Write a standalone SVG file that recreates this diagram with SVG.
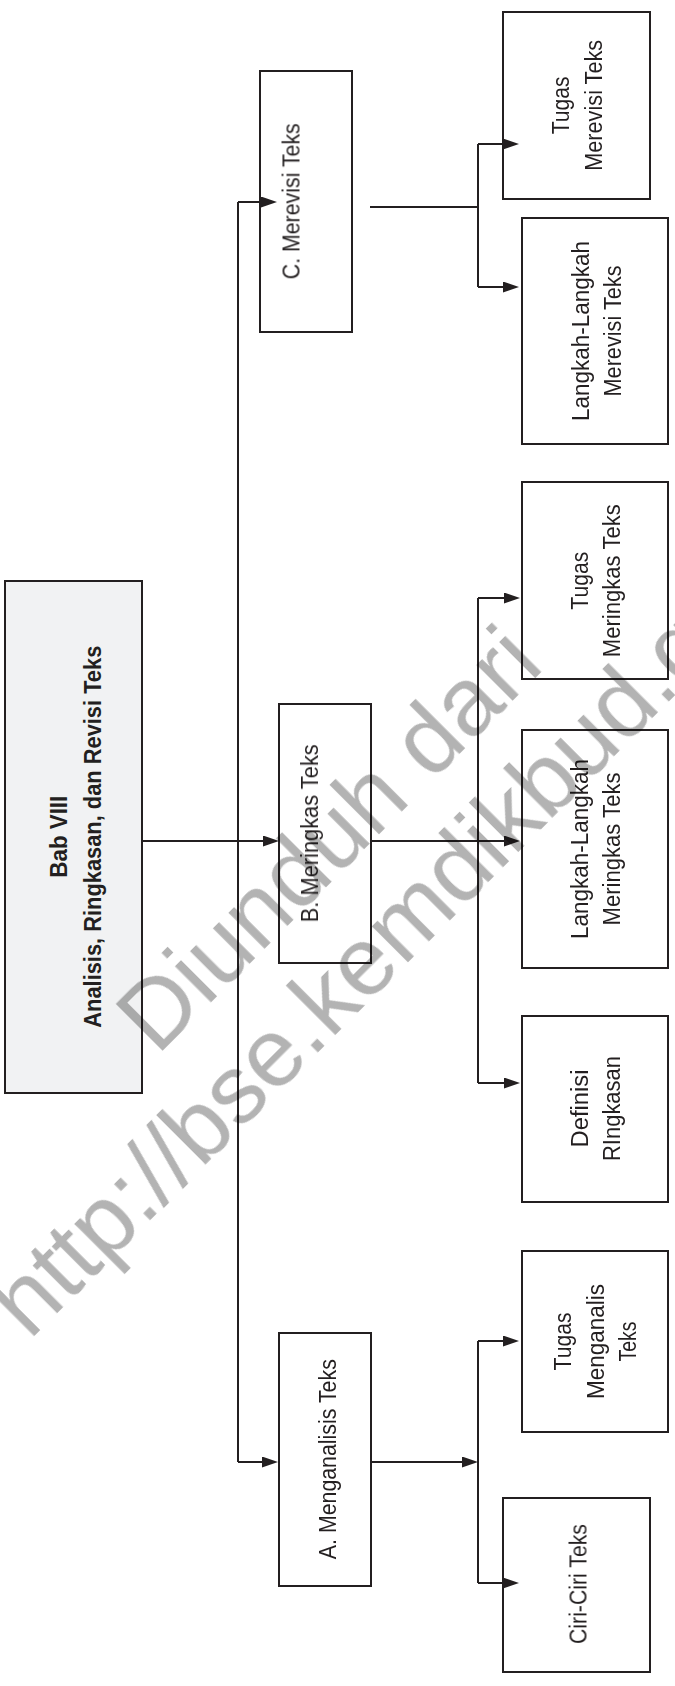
<svg xmlns="http://www.w3.org/2000/svg" width="675" height="1686" viewBox="0 0 675 1686">
<style>
.box{fill:none;stroke:#231f20;stroke-width:2}
.main{fill:#f1f2f3;stroke:#231f20;stroke-width:2}
.t{font-family:"Liberation Sans",Arial,sans-serif;font-size:23px;fill:#231f20;text-anchor:middle}
.b{font-family:"Liberation Sans",Arial,sans-serif;font-size:24px;font-weight:bold;fill:#231f20;text-anchor:middle}
.ln{fill:none;stroke:#231f20;stroke-width:2}
.ar{fill:none;stroke:#231f20;stroke-width:2;marker-end:url(#ah)}
.wm{font-family:"Liberation Sans",Arial,sans-serif;font-size:97px;fill:#b3b3b3;text-anchor:middle}
</style>
<defs>
<marker id="ah" markerUnits="userSpaceOnUse" markerWidth="16" markerHeight="11" refX="8" refY="5.5" orient="auto">
<path d="M0,0 L16,5.5 L0,11 z" fill="#231f20"/>
</marker>
</defs>

<g id="node-main">
<rect class="main" x="5" y="581" width="137" height="512"/>
<text class="b" transform="translate(66.5,836.7) rotate(-90)" textLength="82" lengthAdjust="spacingAndGlyphs">Bab VIII</text>
<text class="b" transform="translate(100.5,836.7) rotate(-90)" textLength="382" lengthAdjust="spacingAndGlyphs">Analisis, Ringkasan, dan Revisi Teks</text>
</g>

<g id="node-c">
<rect class="box" x="260" y="71" width="92" height="261"/>
<text class="t" transform="translate(299.5,201.3) rotate(-90)" textLength="156" lengthAdjust="spacingAndGlyphs">C. Merevisi Teks</text>
</g>

<g id="node-tugas-merevisi">
<rect class="box" x="503" y="12" width="147" height="187"/>
<text class="t" transform="translate(569,105.3) rotate(-90)" textLength="58" lengthAdjust="spacingAndGlyphs">Tugas</text>
<text class="t" transform="translate(601.5,105.3) rotate(-90)" textLength="131" lengthAdjust="spacingAndGlyphs">Merevisi Teks</text>
</g>

<g id="node-langkah-merevisi">
<rect class="box" x="522" y="218" width="146" height="226"/>
<text class="t" transform="translate(588.5,331) rotate(-90)" textLength="180" lengthAdjust="spacingAndGlyphs">Langkah-Langkah</text>
<text class="t" transform="translate(621,331) rotate(-90)" textLength="131" lengthAdjust="spacingAndGlyphs">Merevisi Teks</text>
</g>

<g id="node-tugas-meringkas">
<rect class="box" x="522" y="482" width="146" height="197"/>
<text class="t" transform="translate(587.5,580.7) rotate(-90)" textLength="58" lengthAdjust="spacingAndGlyphs">Tugas</text>
<text class="t" transform="translate(620,580.7) rotate(-90)" textLength="153" lengthAdjust="spacingAndGlyphs">Meringkas Teks</text>
</g>

<g id="node-b">
<rect class="box" x="279" y="704" width="92" height="259"/>
<text class="t" transform="translate(318,833.3) rotate(-90)" textLength="178" lengthAdjust="spacingAndGlyphs">B. Meringkas Teks</text>
</g>

<g id="node-langkah-meringkas">
<rect class="box" x="522" y="730" width="146" height="238"/>
<text class="t" transform="translate(587.5,849) rotate(-90)" textLength="180" lengthAdjust="spacingAndGlyphs">Langkah-Langkah</text>
<text class="t" transform="translate(620,849) rotate(-90)" textLength="153" lengthAdjust="spacingAndGlyphs">Meringkas Teks</text>
</g>

<g id="node-definisi">
<rect class="box" x="522" y="1016" width="146" height="186"/>
<text class="t" transform="translate(588,1108.5) rotate(-90)" textLength="78" lengthAdjust="spacingAndGlyphs">Definisi</text>
<text class="t" transform="translate(620,1108.5) rotate(-90)" textLength="105" lengthAdjust="spacingAndGlyphs">RIngkasan</text>
</g>

<g id="node-a">
<rect class="box" x="279" y="1333" width="92" height="253"/>
<text class="t" transform="translate(336,1459.2) rotate(-90)" textLength="200" lengthAdjust="spacingAndGlyphs">A. Menganalisis Teks</text>
</g>

<g id="node-tugas-menganalis">
<rect class="box" x="522" y="1251" width="146" height="181"/>
<text class="t" transform="translate(571.3,1341.5) rotate(-90)" textLength="58" lengthAdjust="spacingAndGlyphs">Tugas</text>
<text class="t" transform="translate(603.5,1341.5) rotate(-90)" textLength="115" lengthAdjust="spacingAndGlyphs">Menganalis</text>
<text class="t" transform="translate(636,1341.5) rotate(-90)" textLength="40" lengthAdjust="spacingAndGlyphs">Teks</text>
</g>

<g id="node-ciri">
<rect class="box" x="503" y="1498" width="147" height="174"/>
<text class="t" transform="translate(586.5,1584) rotate(-90)" textLength="120" lengthAdjust="spacingAndGlyphs">Ciri-Ciri Teks</text>
</g>

<g id="connectors">
<path class="ar" d="M142,841 H271"/>
<path class="ln" d="M238,202 V1462"/>
<path class="ar" d="M238,202 H269"/>
<path class="ar" d="M238,1462 H270"/>
<path class="ln" d="M370,207 H478 M478,144 V287"/>
<path class="ar" d="M478,144 H511"/>
<path class="ar" d="M478,287 H511"/>
<path class="ar" d="M371,841 H512"/>
<path class="ln" d="M478,598 V1083"/>
<path class="ar" d="M478,598 H512"/>
<path class="ar" d="M478,1083 H512"/>
<path class="ar" d="M371,1462 H470"/>
<path class="ln" d="M478,1341 V1583"/>
<path class="ar" d="M478,1341 H511"/>
<path class="ar" d="M478,1583 H511"/>
</g>

<g id="watermark" transform="rotate(-45)" style="mix-blend-mode:multiply">
<text class="wm" x="-361" y="857.7">Diunduh dari</text>
<text class="wm" x="-361" y="968.7">http://bse.kemdikbud.go.id</text>
</g>
</svg>
